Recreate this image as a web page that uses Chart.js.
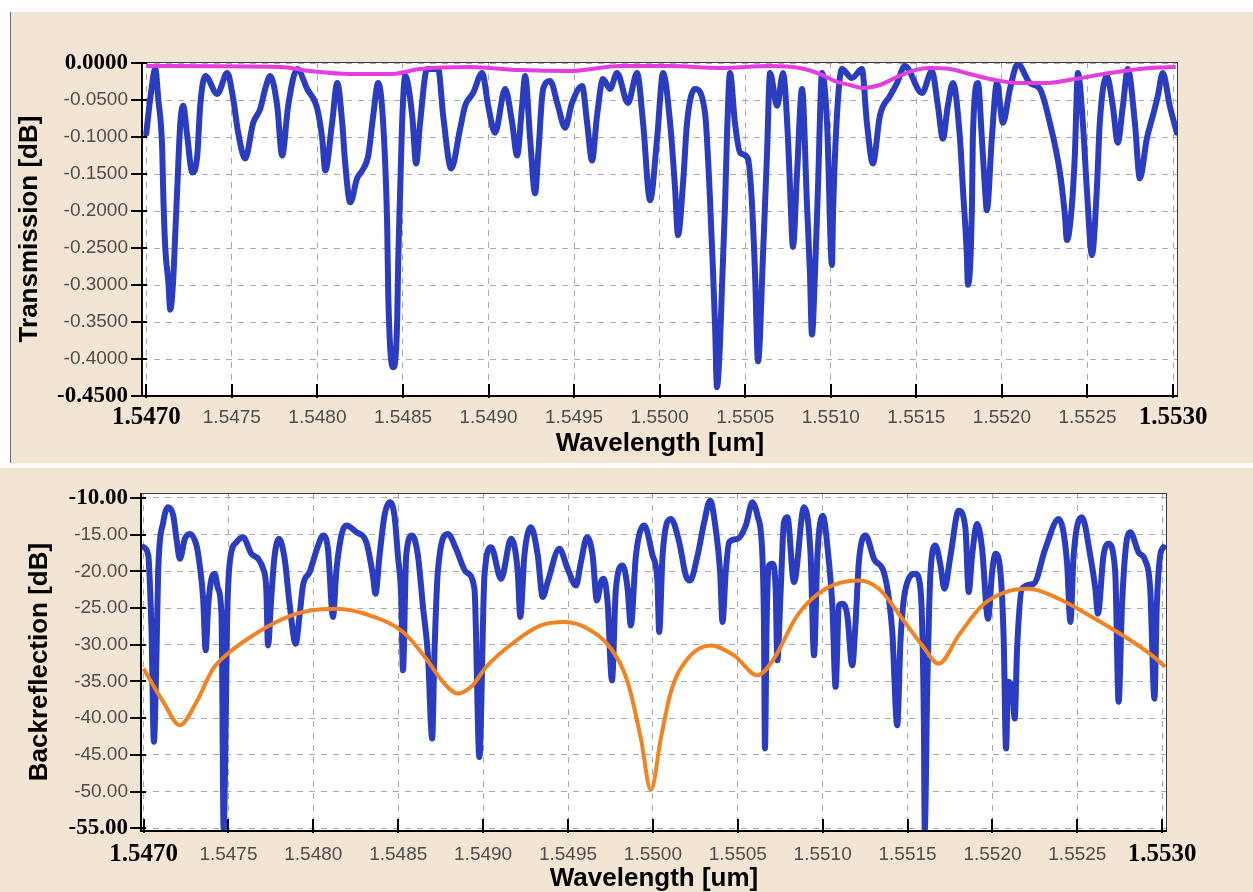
<!DOCTYPE html>
<html lang="en">
<head>
    <meta charset="UTF-8">
    <title>Transmission / Backreflection</title>
    <script src="https://cdn.jsdelivr.net/npm/chart.js"></script>
    <style>
        body {
            margin: 0;
            width: 1253px;
            height: 892px;
            overflow: hidden;
            background-color: #ffffff;
            position: relative;
        }

        .panel {
            position: absolute;
            box-sizing: border-box;
            background-color: #f3e5d4;
        }

        #topPanel {
            left: 10px;
            top: 12px;
            width: 1243px;
            height: 451px;
            border-left: 1px solid #6b6b6b;
        }

        #bottomPanel {
            left: 0;
            top: 468px;
            width: 1253px;
            height: 424px;
        }

        canvas {
            position: absolute;
        }

        #transChart {
            left: 10px;
            top: 12px;
        }

        #reflChart {
            left: 0;
            top: 468px;
        }
    </style>
</head>
<body>

    <div class="panel" id="topPanel"></div>
    <div class="panel" id="bottomPanel"></div>

    <canvas id="transChart" width="1243" height="451"></canvas>
    <canvas id="reflChart" width="1253" height="430"></canvas>

    <script>
        // ---- tick values and labels ----
        var xTickVals = [1.5470, 1.5475, 1.5480, 1.5485, 1.5490, 1.5495, 1.5500, 1.5505, 1.5510, 1.5515, 1.5520, 1.5525, 1.5530];
        var xTickLabels = ['1.5470', '1.5475', '1.5480', '1.5485', '1.5490', '1.5495', '1.5500', '1.5505', '1.5510', '1.5515', '1.5520', '1.5525', '1.5530'];

        var transTickVals = [-0.45, -0.40, -0.35, -0.30, -0.25, -0.20, -0.15, -0.10, -0.05, 0];
        var transTickLabels = ['-0.4500', '-0.4000', '-0.3500', '-0.3000', '-0.2500', '-0.2000', '-0.1500', '-0.1000', '-0.0500', '0.0000'];

        var reflTickVals = [-55, -50, -45, -40, -35, -30, -25, -20, -15, -10];
        var reflTickLabels = ['-55.00', '-50.00', '-45.00', '-40.00', '-35.00', '-30.00', '-25.00', '-20.00', '-15.00', '-10.00'];

        // ---- transmission spectrum (top, blue) ----
        var transWl = [
            1.547000, 1.547023, 1.547053, 1.547070, 1.547093, 1.547099, 1.547111, 1.547129, 1.547140, 1.547158,
            1.547169, 1.547181, 1.547199, 1.547216, 1.547239, 1.547269, 1.547298, 1.547315, 1.547345, 1.547415,
            1.547473, 1.547508, 1.547537, 1.547578, 1.547625, 1.547666, 1.547695, 1.547724, 1.547765, 1.547794,
            1.547829, 1.547882, 1.547940, 1.547999, 1.548028, 1.548046, 1.548086, 1.548116, 1.548145, 1.548162,
            1.548192, 1.548232, 1.548262, 1.548297, 1.548326, 1.548355, 1.548384, 1.548408, 1.548414, 1.548443,
            1.548466, 1.548472, 1.548484, 1.548495, 1.548513, 1.548554, 1.548577, 1.548600, 1.548641, 1.548706,
            1.548735, 1.548782, 1.548834, 1.548863, 1.548910, 1.548963, 1.548998, 1.549038, 1.549097, 1.549138,
            1.549167, 1.549196, 1.549214, 1.549243, 1.549272, 1.549290, 1.549319, 1.549360, 1.549406, 1.549447,
            1.549488, 1.549547, 1.549576, 1.549605, 1.549634, 1.549669, 1.549710, 1.549751, 1.549815, 1.549868,
            1.549903, 1.549944, 1.549985, 1.550020, 1.550061, 1.550090, 1.550107, 1.550137, 1.550160, 1.550207,
            1.550265, 1.550294, 1.550312, 1.550324, 1.550335, 1.550353, 1.550364, 1.550382, 1.550394, 1.550411,
            1.550440, 1.550470, 1.550516, 1.550540, 1.550557, 1.550575, 1.550604, 1.550627, 1.550645, 1.550686,
            1.550721, 1.550750, 1.550762, 1.550779, 1.550803, 1.550832, 1.550861, 1.550878, 1.550890, 1.550908,
            1.550925, 1.550949, 1.550978, 1.551007, 1.551013, 1.551036, 1.551065, 1.551124, 1.551182, 1.551211,
            1.551246, 1.551287, 1.551346, 1.551387, 1.551433, 1.551533, 1.551591, 1.551626, 1.551655, 1.551684,
            1.551714, 1.551755, 1.551772, 1.551795, 1.551801, 1.551825, 1.551830, 1.551860, 1.551883, 1.551901,
            1.551912, 1.551941, 1.551971, 1.552006, 1.552047, 1.552093, 1.552163, 1.552222, 1.552280, 1.552339,
            1.552368, 1.552380, 1.552409, 1.552426, 1.552444, 1.552473, 1.552496, 1.552526, 1.552555, 1.552572,
            1.552613, 1.552648, 1.552677, 1.552707, 1.552736, 1.552777, 1.552806, 1.552847, 1.552882, 1.552911,
            1.552940, 1.552981, 1.553022
        ];
        var transDb = [
            -0.0954, -0.0484, -0.0081, -0.0484, -0.1156, -0.1747, -0.2500, -0.2957, -0.3333, -0.2903,
            -0.2325, -0.1693, -0.0806, -0.0578, -0.0981, -0.1478, -0.1250, -0.0578, -0.0175, -0.0417,
            -0.0134, -0.0484, -0.0941, -0.1290, -0.0806, -0.0618, -0.0349, -0.0175, -0.0578, -0.1250,
            -0.0578, -0.0081, -0.0349, -0.0618, -0.1021, -0.1452, -0.0806, -0.0269, -0.0806, -0.1344,
            -0.1882, -0.1559, -0.1452, -0.1250, -0.0712, -0.0269, -0.0806, -0.2231, -0.3132, -0.4113,
            -0.3494, -0.2688, -0.1693, -0.0806, -0.0175, -0.0712, -0.1357, -0.0806, -0.0081, -0.0081,
            -0.0712, -0.1425, -0.0887, -0.0578, -0.0403, -0.0134, -0.0578, -0.0941, -0.0349, -0.0806,
            -0.1250, -0.0578, -0.0175, -0.1021, -0.1761, -0.1250, -0.0349, -0.0242, -0.0578, -0.0874,
            -0.0538, -0.0309, -0.0806, -0.1317, -0.0712, -0.0215, -0.0349, -0.0134, -0.0538, -0.0134,
            -0.0806, -0.1855, -0.1021, -0.0134, -0.0806, -0.1693, -0.2325, -0.1613, -0.0806, -0.0349,
            -0.0672, -0.1828, -0.2822, -0.3575, -0.4381, -0.3763, -0.3037, -0.1922, -0.0941, -0.0134,
            -0.0806, -0.1210, -0.1290, -0.1922, -0.2822, -0.4032, -0.2594, -0.1250, -0.0134, -0.0578,
            -0.0134, -0.1021, -0.1693, -0.2486, -0.1478, -0.0349, -0.1922, -0.2822, -0.3669, -0.2822,
            -0.1693, -0.0134, -0.0806, -0.2728, -0.2056, -0.0712, -0.0081, -0.0202, -0.0081, -0.0806,
            -0.1357, -0.0712, -0.0444, -0.0269, -0.0040, -0.0403, -0.0108, -0.0578, -0.1021, -0.0578,
            -0.0269, -0.1021, -0.1693, -0.2594, -0.2997, -0.1922, -0.1021, -0.0269, -0.1021, -0.1693,
            -0.1989, -0.1021, -0.0269, -0.0806, -0.0349, -0.0013, -0.0269, -0.0349, -0.0806, -0.1478,
            -0.2056, -0.2392, -0.1922, -0.1250, -0.0134, -0.0806, -0.1693, -0.2594, -0.1693, -0.0806,
            -0.0175, -0.0578, -0.1075, -0.0578, -0.0081, -0.0806, -0.1559, -0.1021, -0.0712, -0.0444,
            -0.0134, -0.0578, -0.0941
        ];

        // ---- transmission envelope (top, magenta) ----
        var transEnvWl = [
            1.547000, 1.547783, 1.547958, 1.548192, 1.548425, 1.548600, 1.548892, 1.549185, 1.549477, 1.549769,
            1.550061, 1.550353, 1.550645, 1.550820, 1.550937, 1.551024, 1.551112, 1.551188, 1.551287, 1.551387,
            1.551492, 1.551579, 1.551696, 1.551813, 1.551959, 1.552105, 1.552251, 1.552426, 1.552631, 1.552864,
            1.553016
        ];
        var transEnvDb = [
            -0.0040, -0.0054, -0.0108, -0.0148, -0.0148, -0.0081, -0.0054, -0.0094, -0.0108, -0.0040,
            -0.0040, -0.0067, -0.0040, -0.0067, -0.0148, -0.0242, -0.0296, -0.0336, -0.0296, -0.0188,
            -0.0094, -0.0067, -0.0081, -0.0148, -0.0228, -0.0269, -0.0269, -0.0215, -0.0134, -0.0067,
            -0.0054
        ];

        // ---- backreflection spectrum (bottom, blue) ----
        var reflWl = [
            1.547000, 1.547028, 1.547037, 1.547047, 1.547061, 1.547076, 1.547086, 1.547116, 1.547145, 1.547175,
            1.547194, 1.547214, 1.547243, 1.547272, 1.547312, 1.547331, 1.547351, 1.547366, 1.547381, 1.547400,
            1.547419, 1.547439, 1.547459, 1.547472, 1.547484, 1.547492, 1.547508, 1.547547, 1.547586, 1.547635,
            1.547675, 1.547704, 1.547723, 1.547733, 1.547753, 1.547772, 1.547798, 1.547831, 1.547861, 1.547896,
            1.547919, 1.547939, 1.547978, 1.548028, 1.548057, 1.548086, 1.548116, 1.548135, 1.548165, 1.548194,
            1.548253, 1.548312, 1.548351, 1.548366, 1.548390, 1.548419, 1.548449, 1.548478, 1.548498, 1.548518,
            1.548528, 1.548547, 1.548582, 1.548616, 1.548645, 1.548675, 1.548700, 1.548713, 1.548733, 1.548792,
            1.548841, 1.548900, 1.548949, 1.548978, 1.549008, 1.549047, 1.549106, 1.549165, 1.549204, 1.549219,
            1.549243, 1.549282, 1.549322, 1.549351, 1.549380, 1.549449, 1.549498, 1.549547, 1.549576, 1.549612,
            1.549645, 1.549670, 1.549694, 1.549710, 1.549733, 1.549759, 1.549782, 1.549822, 1.549851, 1.549870,
            1.549900, 1.549949, 1.549998, 1.550027, 1.550037, 1.550057, 1.550106, 1.550155, 1.550194, 1.550219,
            1.550263, 1.550302, 1.550337, 1.550370, 1.550396, 1.550410, 1.550429, 1.550449, 1.550498, 1.550547,
            1.550586, 1.550616, 1.550645, 1.550654, 1.550660, 1.550670, 1.550684, 1.550704, 1.550723, 1.550733,
            1.550753, 1.550772, 1.550792, 1.550831, 1.550890, 1.550929, 1.550949, 1.550969, 1.551000, 1.551037,
            1.551057, 1.551076, 1.551096, 1.551116, 1.551145, 1.551174, 1.551194, 1.551213, 1.551253, 1.551302,
            1.551360, 1.551390, 1.551410, 1.551439, 1.551459, 1.551488, 1.551547, 1.551576, 1.551596, 1.551601,
            1.551616, 1.551635, 1.551664, 1.551694, 1.551717, 1.551753, 1.551801, 1.551841, 1.551860, 1.551880,
            1.551910, 1.551939, 1.551974, 1.551998, 1.552017, 1.552047, 1.552066, 1.552080, 1.552092, 1.552116,
            1.552131, 1.552145, 1.552174, 1.552243, 1.552311, 1.552390, 1.552439, 1.552459, 1.552478, 1.552527,
            1.552576, 1.552606, 1.552621, 1.552654, 1.552684, 1.552723, 1.552743, 1.552763, 1.552792, 1.552812,
            1.552860, 1.552900, 1.552929, 1.552954, 1.552968, 1.552988, 1.553007
        ];
        var reflDb = [
            -16.70, -17.84, -21.46, -28.26, -43.21, -31.44, -20.10, -13.30, -11.27, -12.41,
            -15.57, -18.29, -15.57, -14.89, -16.48, -19.20, -23.73, -30.76, -24.64, -21.01,
            -20.33, -22.37, -26.00, -55.30, -40.49, -26.90, -18.74, -16.02, -15.34, -17.61,
            -18.29, -19.65, -22.37, -30.08, -23.28, -17.84, -15.57, -18.29, -24.64, -29.85,
            -26.00, -21.92, -20.10, -16.48, -15.12, -16.93, -26.22, -20.10, -15.12, -13.76,
            -14.66, -16.02, -20.56, -23.05, -17.84, -12.41, -10.59, -12.41, -17.84, -23.73,
            -33.48, -17.84, -15.12, -17.84, -24.64, -31.44, -42.76, -31.44, -20.10, -14.89,
            -16.93, -20.10, -22.37, -45.30, -20.56, -16.70, -21.01, -15.57, -20.10, -26.22,
            -17.84, -13.99, -17.84, -23.50, -21.46, -16.93, -19.65, -21.92, -18.74, -15.34,
            -17.84, -23.96, -21.46, -21.01, -24.18, -34.84, -22.37, -19.20, -22.37, -27.36,
            -17.84, -13.76, -17.84, -21.46, -28.26, -17.84, -12.85, -16.02, -20.56, -21.24,
            -17.84, -13.30, -10.36, -14.21, -20.10, -26.90, -20.10, -16.02, -15.57, -13.76,
            -10.59, -12.41, -17.84, -26.90, -44.12, -26.90, -19.20, -18.97, -22.37, -32.12,
            -22.37, -13.30, -12.62, -21.46, -11.27, -17.84, -31.44, -17.84, -12.41, -18.74,
            -24.64, -35.73, -24.64, -24.41, -26.00, -32.80, -26.90, -18.74, -15.12, -18.29,
            -20.10, -23.73, -28.26, -40.95, -29.17, -22.37, -20.33, -22.37, -40.49, -55.30,
            -35.96, -20.10, -16.48, -19.20, -22.37, -17.84, -11.73, -14.21, -22.82, -17.84,
            -13.53, -16.93, -26.45, -20.10, -17.61, -20.10, -29.17, -44.12, -35.05, -35.96,
            -40.04, -30.53, -22.37, -21.69, -16.93, -12.85, -18.74, -26.90, -17.84, -12.62,
            -17.84, -22.37, -25.77, -17.84, -16.25, -20.10, -37.77, -24.64, -15.57, -14.66,
            -17.38, -18.52, -22.37, -37.32, -24.64, -17.84, -16.70
        ];

        // ---- backreflection envelope (bottom, orange) ----
        var reflEnvWl = [
            1.547000, 1.547116, 1.547214, 1.547312, 1.547410, 1.547508, 1.547645, 1.547782, 1.547939, 1.548135,
            1.548331, 1.548528, 1.548665, 1.548763, 1.548851, 1.548939, 1.549018, 1.549184, 1.549341, 1.549478,
            1.549616, 1.549753, 1.549851, 1.549929, 1.549988, 1.550047, 1.550106, 1.550204, 1.550341, 1.550478,
            1.550616, 1.550713, 1.550851, 1.551017, 1.551213, 1.551331, 1.551469, 1.551586, 1.551684, 1.551801,
            1.551939, 1.552076, 1.552213, 1.552390, 1.552586, 1.552782, 1.552939, 1.553017
        ];
        var reflEnvDb = [
            -33.25, -37.77, -40.95, -37.77, -33.25, -30.98, -28.72, -26.90, -25.54, -25.09,
            -25.99, -28.26, -31.89, -35.05, -36.64, -35.51, -33.01, -29.62, -27.36, -26.90,
            -27.81, -30.53, -35.05, -42.76, -49.79, -42.76, -36.41, -31.89, -30.08, -31.44,
            -34.16, -31.89, -25.99, -22.37, -21.24, -22.37, -26.45, -30.08, -32.57, -28.72,
            -24.64, -22.82, -22.37, -23.73, -26.22, -28.94, -31.44, -33.01
        ];

        var blueColor = '#2a3cbf';
        var magentaColor = '#e23ee0';
        var orangeColor = '#f28322';

        function toPoints(xs, ys) {
            return xs.map(function (x, i) { return { x: x, y: ys[i] }; });
        }

        // white plot area, frame and the tick marks of the original plot
        var framePlugin = {
            id: 'frame',
            beforeDraw: function (chart) {
                var a = chart.chartArea;
                var ctx = chart.ctx;
                ctx.save();
                ctx.fillStyle = '#ffffff';
                ctx.fillRect(a.left, a.top, a.right - a.left, a.bottom - a.top);
                ctx.restore();
            },
            afterDraw: function (chart) {
                var a = chart.chartArea;
                var ctx = chart.ctx;
                var sx = chart.scales.x;
                var sy = chart.scales.y;
                ctx.save();
                ctx.strokeStyle = '#3a3a3a';
                ctx.lineWidth = 1;
                ctx.strokeRect(a.left + 0.5, a.top + 0.5, a.right - a.left - 1, a.bottom - a.top - 1);
                ctx.strokeStyle = '#000000';
                ctx.lineWidth = 2;
                ctx.beginPath();
                ctx.moveTo(a.left, a.top);
                ctx.lineTo(a.left, a.bottom);
                ctx.lineTo(a.right, a.bottom);
                sy.ticks.forEach(function (t) {
                    var y = Math.round(sy.getPixelForValue(t.value));
                    ctx.moveTo(a.left - 11, y);
                    ctx.lineTo(a.left + 5, y);
                });
                sx.ticks.forEach(function (t) {
                    var x = Math.round(sx.getPixelForValue(t.value));
                    ctx.moveTo(x, a.bottom + 2);
                    ctx.lineTo(x, a.bottom - 12);
                });
                ctx.stroke();
                ctx.restore();
            }
        };

        function edgeFont(size) {
            return { family: "'Liberation Serif', 'Times New Roman', serif", weight: 'bold', size: size, lineHeight: '24px' };
        }
        var plainFont = { family: "'Liberation Sans', Arial, sans-serif", size: 19, lineHeight: '24px' };

        // first and last labels of an axis are drawn bold
        function isEdge(ctx, count) {
            return ctx.index === 0 || ctx.index === count - 1;
        }

        function makeChart(canvasId, cfg) {
            var nx = xTickVals.length;
            var ny = cfg.yTickVals.length;
            return new Chart(document.getElementById(canvasId), {
                type: 'line',
                data: { datasets: cfg.datasets },
                options: {
                    responsive: false,
                    animation: false,
                    devicePixelRatio: 1,
                    layout: { padding: cfg.padding },
                    plugins: {
                        legend: { display: false },
                        tooltip: { enabled: false }
                    },
                    elements: { point: { radius: 0 } },
                    scales: {
                        x: {
                            type: 'linear',
                            min: cfg.xMin,
                            max: cfg.xMax,
                            afterFit: function (s) { s.height = 63; },
                            afterBuildTicks: function (s) {
                                s.ticks = xTickVals.map(function (v) { return { value: v }; });
                            },
                            grid: { color: '#a9a9a9', lineWidth: 1, drawTicks: false },
                            border: { display: false, dash: [6, 6] },
                            ticks: {
                                autoSkip: false,
                                maxRotation: 0,
                                minRotation: 0,
                                padding: cfg.xPad,
                                callback: function (v, i) { return xTickLabels[i]; },
                                font: function (ctx) { return isEdge(ctx, nx) ? edgeFont(25) : plainFont; },
                                color: function (ctx) { return isEdge(ctx, nx) ? '#000000' : '#4d4d4d'; }
                            },
                            title: {
                                display: true,
                                text: 'Wavelength [um]',
                                color: '#000000',
                                font: { family: "'Liberation Sans', Arial, sans-serif", weight: 'bold', size: 26 },
                                padding: { top: 0, bottom: 0 }
                            }
                        },
                        y: {
                            type: 'linear',
                            min: cfg.yMin,
                            max: cfg.yMax,
                            afterFit: function (s) { s.width = cfg.yWidth; },
                            afterBuildTicks: function (s) {
                                s.ticks = cfg.yTickVals.map(function (v) { return { value: v }; });
                            },
                            grid: { color: '#a9a9a9', lineWidth: 1, drawTicks: false },
                            border: { display: false, dash: [6, 6] },
                            ticks: {
                                autoSkip: false,
                                padding: cfg.yPad,
                                callback: function (v, i) { return cfg.yTickLabels[i]; },
                                font: function (ctx) { return isEdge(ctx, ny) ? edgeFont(23) : plainFont; },
                                color: function (ctx) { return isEdge(ctx, ny) ? '#000000' : '#4d4d4d'; }
                            },
                            title: {
                                display: true,
                                text: cfg.yTitle,
                                color: '#000000',
                                font: { family: "'Liberation Sans', Arial, sans-serif", weight: 'bold', size: 26 },
                                padding: { top: cfg.yTitlePad, bottom: 0 }
                            }
                        }
                    }
                },
                plugins: [framePlugin]
            });
        }

        makeChart('transChart', {
            padding: { left: 0, top: 50, right: 75, bottom: 4 },
            xMin: 1.546975, xMax: 1.553029,
            yMin: -0.45, yMax: 0.0015,
            yWidth: 132, yPad: 14, xPad: 10, yTitlePad: 4,
            yTickVals: transTickVals, yTickLabels: transTickLabels,
            yTitle: 'Transmission [dB]',
            datasets: [
                {
                    data: toPoints(transEnvWl, transEnvDb),
                    borderColor: magentaColor,
                    borderWidth: 4,
                    cubicInterpolationMode: 'monotone',
                    fill: false
                },
                {
                    data: toPoints(transWl, transDb),
                    borderColor: blueColor,
                    borderWidth: 6,
                    cubicInterpolationMode: 'monotone',
                    borderJoinStyle: 'round',
                    borderCapStyle: 'round',
                    fill: false
                }
            ]
        });

        makeChart('reflChart', {
            padding: { left: 0, top: 25, right: 86, bottom: 4 },
            xMin: 1.546985, xMax: 1.553028,
            yMin: -55.37, yMax: -9.32,
            yWidth: 141, yPad: 13, xPad: 12, yTitlePad: 24,
            yTickVals: reflTickVals, yTickLabels: reflTickLabels,
            yTitle: 'Backreflection [dB]',
            datasets: [
                {
                    data: toPoints(reflEnvWl, reflEnvDb),
                    borderColor: orangeColor,
                    borderWidth: 4,
                    cubicInterpolationMode: 'monotone',
                    fill: false
                },
                {
                    data: toPoints(reflWl, reflDb),
                    borderColor: blueColor,
                    borderWidth: 6,
                    cubicInterpolationMode: 'monotone',
                    borderJoinStyle: 'round',
                    borderCapStyle: 'round',
                    fill: false
                }
            ]
        });
    </script>
</body>
</html>
